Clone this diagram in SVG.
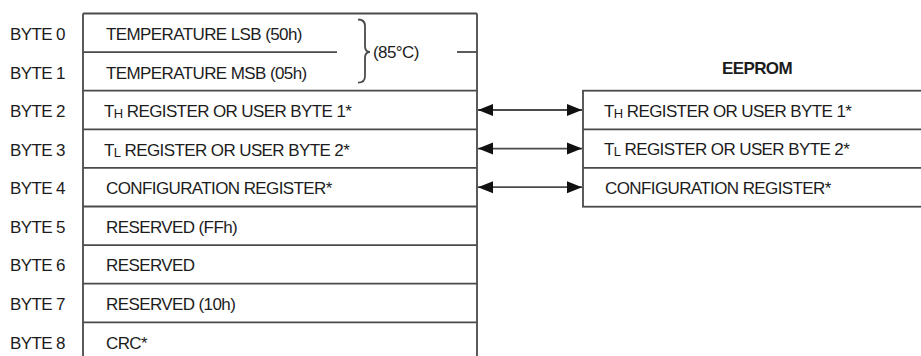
<svg xmlns="http://www.w3.org/2000/svg" width="921" height="356" viewBox="0 0 921 356">
  <style>
    .t { font-family: "Liberation Sans", Arial, sans-serif; font-size: 17px; letter-spacing: -0.6px; fill: #1c1c1c; }
    .sub { font-size: 13px; }
    .b { font-weight: bold; }
    .ln { stroke: #4a4a4a; stroke-width: 1.8; fill: none; }
    .arr { stroke: #4a4a4a; stroke-width: 1.8; fill: none; marker-start: url(#head); marker-end: url(#head); }
  </style>
  <defs>
    <marker id="head" markerUnits="userSpaceOnUse" markerWidth="16" markerHeight="13" refX="15" refY="6.5" orient="auto-start-reverse">
      <path d="M0,0.5 L15,6.5 L0,12.5 z" fill="#111"/>
    </marker>
  </defs>
  <rect width="921" height="356" fill="#fff"/>

  <!-- scratchpad memory map -->
  <g id="scratchpad">
    <path class="ln" d="M83,13.5 H477 M83,13.5 V360 M477,13.5 V360"/>
    <g id="byte0">
      <text class="t" x="10" y="39.5">BYTE 0</text>
      <text class="t" x="106" y="39.5">TEMPERATURE LSB (50h)</text>
      <path class="ln" d="M83,52.1 H337"/>
    </g>
    <g id="byte1">
      <text class="t" x="10" y="78.5">BYTE 1</text>
      <text class="t" x="106" y="78.5">TEMPERATURE MSB (05h)</text>
      <path class="ln" d="M83,90.7 H477"/>
    </g>
    <g id="temp-brace">
      <path class="ln" stroke-width="1.5" d="M358,19.5 Q365,19.5 365,26 V46 Q365,52 370,52 Q365,52 365,58 V76 Q365,82.7 358,82.7"/>
      <text class="t" x="373" y="58">(85°C)</text>
      <path class="ln" d="M457,52 H477"/>
    </g>
    <g id="byte2">
      <text class="t" x="10" y="117">BYTE 2</text>
      <text class="t" x="104" y="117">T<tspan class="sub" dy="1">H</tspan><tspan dy="-1"> REGISTER OR USER BYTE 1*</tspan></text>
      <path class="ln" d="M83,129.3 H477"/>
    </g>
    <g id="byte3">
      <text class="t" x="10" y="155.6">BYTE 3</text>
      <text class="t" x="104" y="155.6">T<tspan class="sub" dy="1">L</tspan><tspan dy="-1"> REGISTER OR USER BYTE 2*</tspan></text>
      <path class="ln" d="M83,167.9 H477"/>
    </g>
    <g id="byte4">
      <text class="t" x="10" y="194.2">BYTE 4</text>
      <text class="t" x="106" y="194.2">CONFIGURATION REGISTER*</text>
      <path class="ln" d="M83,206.5 H477"/>
    </g>
    <g id="byte5">
      <text class="t" x="10" y="232.8">BYTE 5</text>
      <text class="t" x="106" y="232.8">RESERVED (FFh)</text>
      <path class="ln" d="M83,245.1 H477"/>
    </g>
    <g id="byte6">
      <text class="t" x="10" y="271.4">BYTE 6</text>
      <text class="t" x="106" y="271.4">RESERVED</text>
      <path class="ln" d="M83,283.7 H477"/>
    </g>
    <g id="byte7">
      <text class="t" x="10" y="310">BYTE 7</text>
      <text class="t" x="106" y="310">RESERVED (10h)</text>
      <path class="ln" d="M83,322.3 H477"/>
    </g>
    <g id="byte8">
      <text class="t" x="10" y="348.6">BYTE 8</text>
      <text class="t" x="106" y="348.6">CRC*</text>
    </g>
  </g>

  <!-- EEPROM copy of the user registers -->
  <g id="eeprom">
    <text class="t b" x="757" y="74" text-anchor="middle">EEPROM</text>
    <rect class="ln" x="583" y="90.7" width="400" height="116"/>
    <path class="ln" d="M583,129.3 H921 M583,167.9 H921"/>
    <g id="ee-th">
      <text class="t" x="604" y="116.5">T<tspan class="sub" dy="1">H</tspan><tspan dy="-1"> REGISTER OR USER BYTE 1*</tspan></text>
    </g>
    <g id="ee-tl">
      <text class="t" x="604" y="155">T<tspan class="sub" dy="1">L</tspan><tspan dy="-1"> REGISTER OR USER BYTE 2*</tspan></text>
    </g>
    <g id="ee-config">
      <text class="t" x="605" y="193.6">CONFIGURATION REGISTER*</text>
    </g>
  </g>

  <!-- two-way copy paths -->
  <g id="connectors">
    <line class="arr" x1="478" y1="110" x2="582" y2="110"/>
    <line class="arr" x1="478" y1="148.6" x2="582" y2="148.6"/>
    <line class="arr" x1="478" y1="187.2" x2="582" y2="187.2"/>
  </g>
</svg>
